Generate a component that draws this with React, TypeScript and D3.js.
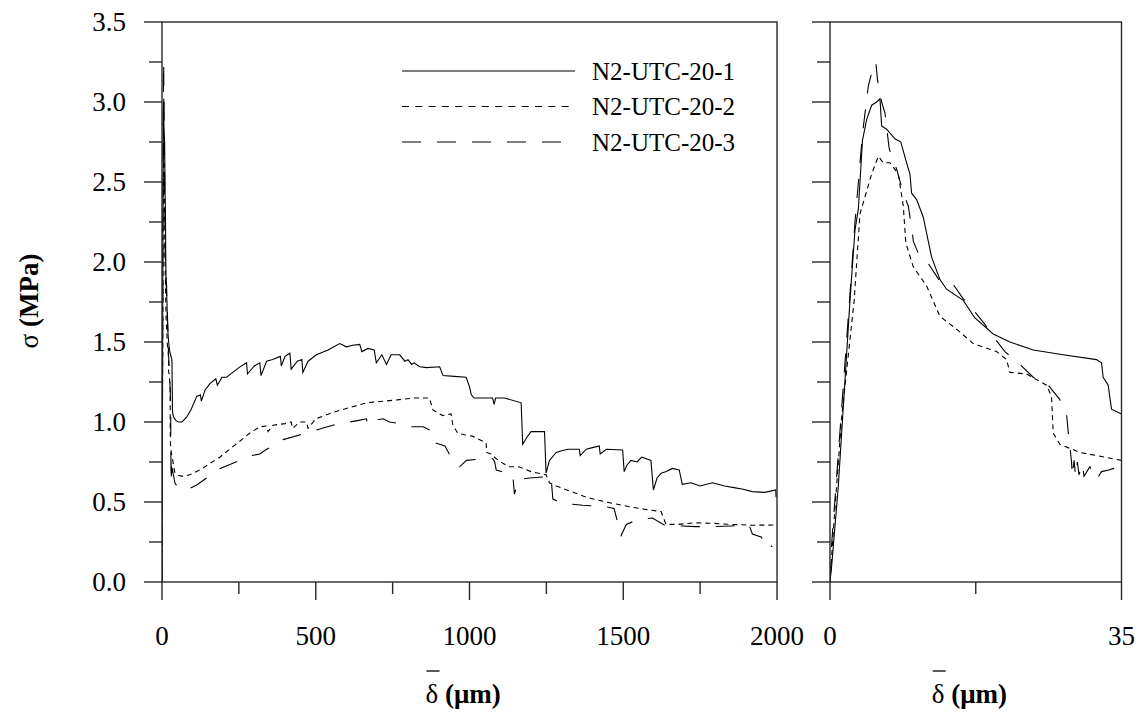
import { useRef, useEffect } from 'react';
import * as d3 from 'd3';

// [delta (um), sigma (MPa)]
const seriesNames = ['N2-UTC-20-1', 'N2-UTC-20-2', 'N2-UTC-20-3'];

const s1: [number, number][] = [
  [0, 0], [0.2, 0.1], [1, 0.6], [2.4, 1.76], [2.6, 1.91], [3.0, 2.2], [3.4, 2.33], [3.9, 2.76], [4.4, 2.89],
  [5.0, 2.98], [5.6, 3.0], [6.0, 3.02], [6.2, 2.85], [6.8, 2.83], [7.8, 2.77], [8.5, 2.75], [9.2, 2.62],
  [9.6, 2.55], [9.8, 2.43], [10.4, 2.39], [11.2, 2.28], [12.2, 2.03], [13.2, 1.89], [14.0, 1.83], [16.0, 1.76],
  [17.4, 1.65], [19.6, 1.55], [21.6, 1.5], [24.4, 1.45], [28, 1.42], [32, 1.39], [32.6, 1.37], [32.8, 1.28],
  [33.4, 1.23], [33.8, 1.08], [35, 1.05],
  [38, 1.03], [45, 1.01], [53, 1.0], [65, 1.0], [80, 1.03], [95, 1.08], [113, 1.16], [125, 1.17], [128, 1.13],
  [140, 1.2], [156, 1.24], [175, 1.27], [180, 1.23], [195, 1.28], [210, 1.28], [230, 1.31], [250, 1.34],
  [275, 1.37], [278, 1.3], [300, 1.35], [318, 1.37], [322, 1.29], [340, 1.38], [360, 1.39], [385, 1.41],
  [388, 1.35], [400, 1.41], [416, 1.43], [420, 1.33], [440, 1.38], [455, 1.39], [458, 1.31], [475, 1.38],
  [502, 1.42], [540, 1.45], [578, 1.49], [600, 1.47], [620, 1.48], [643, 1.485], [650, 1.44], [670, 1.46],
  [690, 1.45], [697, 1.37], [715, 1.42], [730, 1.36], [745, 1.42], [773, 1.42], [790, 1.38], [800, 1.39],
  [812, 1.36], [820, 1.37], [838, 1.345], [860, 1.34], [903, 1.345], [914, 1.29], [950, 1.285], [989, 1.28],
  [1000, 1.22], [1006, 1.17], [1015, 1.15], [1032, 1.15], [1075, 1.15], [1080, 1.11], [1085, 1.15],
  [1114, 1.15], [1168, 1.12], [1173, 0.86], [1185, 0.9], [1200, 0.94], [1244, 0.94], [1249, 0.68],
  [1260, 0.76], [1282, 0.81], [1300, 0.82], [1320, 0.83], [1357, 0.83], [1360, 0.79], [1380, 0.83],
  [1400, 0.84], [1422, 0.85], [1425, 0.8], [1445, 0.83], [1498, 0.825], [1503, 0.69], [1512, 0.73],
  [1525, 0.76], [1545, 0.75], [1560, 0.78], [1575, 0.77], [1590, 0.76], [1598, 0.575], [1610, 0.65],
  [1623, 0.68], [1640, 0.69], [1660, 0.71], [1682, 0.7], [1692, 0.61], [1720, 0.62], [1750, 0.6],
  [1790, 0.62], [1830, 0.6], [1860, 0.59], [1890, 0.58], [1920, 0.565], [1960, 0.56], [1996, 0.575], [1997, 0.53],
];

const s2: [number, number][] = [
  [0, 0], [0.4, 0.32], [1.4, 1.03], [2.9, 1.76], [3.6, 2.3], [5.0, 2.55], [5.8, 2.66], [6.4, 2.62], [7.2, 2.62],
  [8.2, 2.55], [8.8, 2.35], [9.1, 2.12], [10.0, 1.97], [11.6, 1.85], [13.2, 1.66], [15.2, 1.58], [17.2, 1.49],
  [20.0, 1.44], [21.2, 1.39], [21.6, 1.31], [23.6, 1.3], [26.0, 1.23], [26.6, 1.16], [26.8, 0.93], [27.6, 0.86],
  [30.0, 0.81], [35, 0.76],
  [42, 0.68], [55, 0.665], [69, 0.66], [90, 0.67], [123, 0.7], [155, 0.74], [188, 0.78], [220, 0.83],
  [253, 0.88], [285, 0.93], [318, 0.97], [340, 0.975], [345, 0.94], [361, 0.98], [400, 0.99], [420, 1.0],
  [425, 0.96], [448, 1.0], [470, 1.0], [475, 0.96], [500, 1.02], [556, 1.06], [610, 1.09], [665, 1.12],
  [720, 1.13], [773, 1.14], [820, 1.15], [870, 1.15], [881, 1.075], [913, 1.04], [940, 1.05], [946, 0.98],
  [962, 0.93], [985, 0.92], [1011, 0.91], [1054, 0.87], [1056, 0.81], [1070, 0.8], [1087, 0.77], [1110, 0.74],
  [1130, 0.72], [1160, 0.72], [1200, 0.69], [1249, 0.67], [1260, 0.62], [1282, 0.6], [1310, 0.58],
  [1346, 0.555], [1380, 0.53], [1422, 0.51], [1470, 0.49], [1520, 0.47], [1570, 0.455], [1623, 0.44],
  [1639, 0.36], [1680, 0.36], [1730, 0.37], [1790, 0.367], [1850, 0.36], [1920, 0.355], [1996, 0.356],
];

const s3: [number, number][] = [
  [0, 0], [0.2, 0.24], [1.0, 0.8], [2.4, 1.8], [3.0, 2.25], [3.9, 2.8], [4.6, 3.1], [5.1, 3.2], [5.5, 3.25],
  [5.7, 3.14], [6.2, 3.0], [6.6, 2.93], [7.1, 2.71], [8.0, 2.58], [8.8, 2.43], [9.4, 2.35], [9.9, 2.18],
  [10.0, 2.13], [10.8, 2.03], [11.8, 1.99], [13.2, 1.88], [14.8, 1.86], [16.0, 1.77], [17.2, 1.7], [18.6, 1.61],
  [19.8, 1.52], [21.0, 1.44], [22.8, 1.36], [24.4, 1.28], [26.2, 1.23], [27.6, 1.14], [28.4, 1.05], [28.6, 0.94],
  [28.8, 0.85], [29.0, 0.75], [29.1, 0.66], [29.3, 0.76], [29.5, 0.66], [29.7, 0.75], [29.9, 0.67],
  [30.3, 0.74], [30.5, 0.66], [31.2, 0.72], [31.6, 0.67], [32.0, 0.64], [32.6, 0.69], [33.5, 0.7],
  [34.0, 0.71], [35, 0.69],
  [42, 0.62], [53, 0.585], [70, 0.58], [91, 0.585], [113, 0.606], [145, 0.65], [178, 0.7], [215, 0.73],
  [253, 0.76], [290, 0.79], [318, 0.8], [340, 0.83], [360, 0.85], [394, 0.89], [450, 0.92], [502, 0.95],
  [555, 0.98], [610, 1.0], [640, 1.01], [665, 1.02], [668, 0.98], [690, 1.01], [719, 1.02], [740, 1.0],
  [773, 0.99], [800, 0.97], [849, 0.97], [881, 0.94], [887, 0.87], [920, 0.85], [940, 0.78], [968, 0.72],
  [990, 0.76], [1040, 0.77], [1076, 0.77], [1082, 0.75], [1087, 0.7], [1141, 0.67], [1146, 0.55],
  [1160, 0.64], [1195, 0.65], [1265, 0.66], [1271, 0.52], [1290, 0.5], [1314, 0.49], [1368, 0.48],
  [1444, 0.47], [1470, 0.46], [1493, 0.29], [1510, 0.36], [1547, 0.39], [1595, 0.4], [1633, 0.356],
  [1690, 0.35], [1736, 0.346], [1790, 0.346], [1850, 0.35], [1909, 0.356], [1920, 0.3], [1950, 0.28],
  [1953, 0.23], [1970, 0.24], [1985, 0.22],
];

const seriesData = [s1, s2, s3];
const dashes = ['none', '5,4', '19,16'];
const legendDashes = ['none', '7,6.3', '19,16'];

const yTicks = [0, 0.5, 1.0, 1.5, 2.0, 2.5, 3.0, 3.5];
const yMinor = [0.25, 0.75, 1.25, 1.75, 2.25, 2.75, 3.25];
const xTicksLeft = [0, 500, 1000, 1500, 2000];
const xMinorLeft = [250, 750, 1250, 1750];
const xTicksRight = [0, 35];
const xMinorRight = [17.5];

const App = () => {
  const svgRef = useRef<SVGSVGElement>(null);

  useEffect(() => {
    const svg = d3.select(svgRef.current);
    svg.selectAll('*').remove();
    const font = '"Liberation Serif", "Times New Roman", serif';
    const axisColor = '#2a2a2a';

    const top = 22, bottom = 582;
    const y = d3.scaleLinear().domain([0, 3.5]).range([bottom, top]);
    const xL = d3.scaleLinear().domain([0, 2000]).range([162, 777]);
    const xR = d3.scaleLinear().domain([0, 35]).range([830, 1121.5]);

    const panel = (x: d3.ScaleLinear<number, number>, xMaj: number[], xMin: number[], yLabels: boolean, clipId: string, maxX: number) => {
      const [x0, x1] = x.range();
      const g = svg.append('g');

      g.append('clipPath').attr('id', clipId)
        .append('rect').attr('x', x0).attr('y', top).attr('width', x1 - x0).attr('height', bottom - top);

      // curves
      const line = d3.line<[number, number]>().x(d => x(d[0])).y(d => y(d[1]));
      seriesData.forEach((s, i) => {
        g.append('path')
          .datum(s.filter(d => d[0] <= maxX))
          .attr('d', line)
          .attr('fill', 'none')
          .attr('stroke', '#000')
          .attr('stroke-width', 1.1)
          .attr('stroke-dasharray', dashes[i])
          .attr('clip-path', `url(#${clipId})`);
      });

      // frame
      g.append('rect')
        .attr('x', x0).attr('y', top).attr('width', x1 - x0).attr('height', bottom - top)
        .attr('fill', 'none').attr('stroke', axisColor).attr('stroke-width', 1.4);

      // y ticks
      yTicks.forEach(t => {
        g.append('line').attr('x1', x0 - 18).attr('x2', x0).attr('y1', y(t)).attr('y2', y(t))
          .attr('stroke', axisColor).attr('stroke-width', 1.4);
        if (yLabels) {
          g.append('text').attr('x', 126).attr('y', y(t)).attr('dy', '0.35em')
            .attr('text-anchor', 'end').attr('font-family', font).attr('font-size', 27)
            .text(t.toFixed(1));
        }
      });
      yMinor.forEach(t => {
        g.append('line').attr('x1', x0 - 13).attr('x2', x0).attr('y1', y(t)).attr('y2', y(t))
          .attr('stroke', axisColor).attr('stroke-width', 1.4);
      });

      // x ticks
      xMaj.forEach(t => {
        g.append('line').attr('x1', x(t)).attr('x2', x(t)).attr('y1', bottom).attr('y2', bottom + 18)
          .attr('stroke', axisColor).attr('stroke-width', 1.4);
        g.append('text').attr('x', x(t)).attr('y', 645)
          .attr('text-anchor', 'middle').attr('font-family', font).attr('font-size', 27)
          .text(String(t));
      });
      xMin.forEach(t => {
        g.append('line').attr('x1', x(t)).attr('x2', x(t)).attr('y1', bottom).attr('y2', bottom + 12)
          .attr('stroke', axisColor).attr('stroke-width', 1.4);
      });

      // x title: delta-bar (um)
      const tx = (x0 + x1) / 2 - 44;
      const title = g.append('text').attr('x', tx).attr('y', 703)
        .attr('font-family', font).attr('font-size', 27);
      title.append('tspan').text('δ');
      title.append('tspan').attr('font-weight', 'bold').text(' (μm)');
      g.append('line').attr('x1', tx + 1).attr('x2', tx + 14).attr('y1', 671).attr('y2', 671)
        .attr('stroke', '#000').attr('stroke-width', 1.3);
    };

    panel(xL, xTicksLeft, xMinorLeft, true, 'clipL', 2000);
    panel(xR, xTicksRight, xMinorRight, false, 'clipR', 35);

    // y title
    const yt = svg.append('text')
      .attr('transform', 'translate(38,301) rotate(-90)')
      .attr('text-anchor', 'middle')
      .attr('font-family', font).attr('font-size', 27);
    yt.append('tspan').text('σ');
    yt.append('tspan').attr('font-weight', 'bold').text(' (MPa)');

    // legend
    seriesNames.forEach((name, i) => {
      const ly = 71 + i * 35.5;
      svg.append('line').attr('x1', 402).attr('x2', 575).attr('y1', ly).attr('y2', ly)
        .attr('stroke', '#000').attr('stroke-width', 1.1).attr('stroke-dasharray', legendDashes[i]);
      svg.append('text').attr('x', 592).attr('y', ly + 8.5)
        .attr('font-family', font).attr('font-size', 25)
        .text(name);
    });
  }, []);

  return (
    <div>
      <svg ref={svgRef} width={1144} height={713}
        style={{ position: 'absolute', left: 0, top: 0, background: '#fff' }} />
    </div>
  );
};

export default App;
